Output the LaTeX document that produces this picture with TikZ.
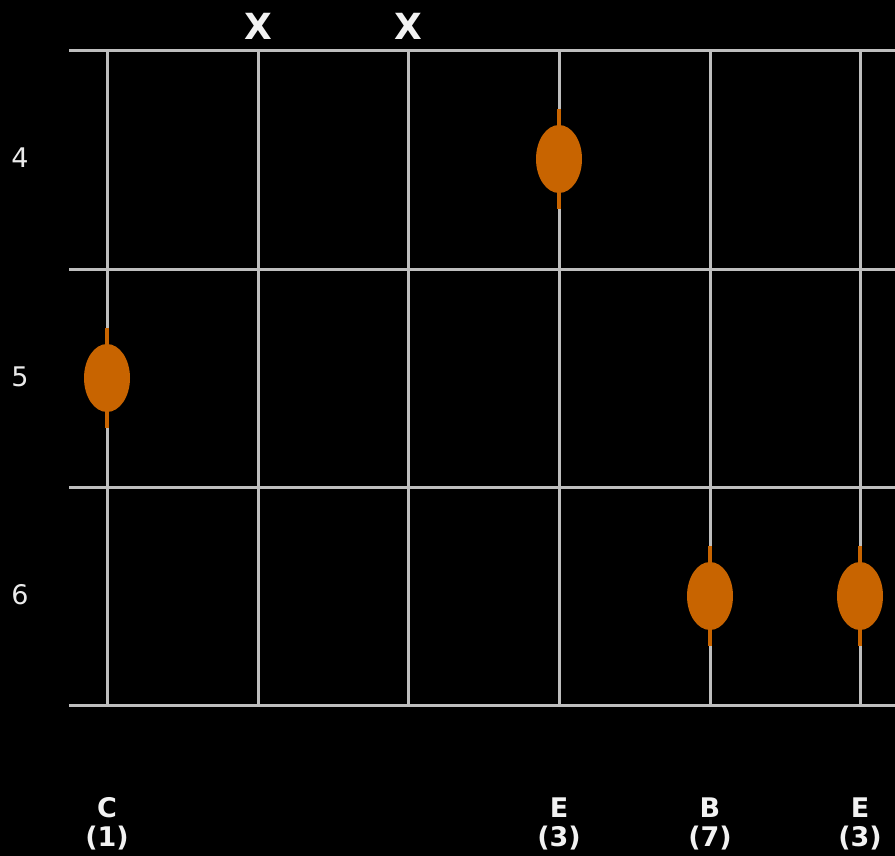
\documentclass[tikz,border=0pt]{standalone}
\usepackage{fontspec}
\setmainfont{DejaVu Sans}
\definecolor{gridgray}{HTML}{BEBEBE}
\definecolor{dotorange}{HTML}{C86400}
\tikzset{
  x=1pt, y=-1pt,
  gridline/.style={draw=gridgray, line width=3pt},
  dotline/.style={draw=dotorange, line width=4pt},
  dotfill/.style={fill=dotorange, draw=none},
  fretnum/.style={text=white!92!black, font=\fontsize{27}{30}\selectfont, inner sep=0pt},
  mutemark/.style={text=white!95!black, font=\bfseries\fontsize{36}{40}\selectfont, inner sep=0pt},
  notelabel/.style={text=white!95!black, font=\bfseries\fontsize{27}{29}\selectfont, align=center, inner sep=0pt},
}
\begin{document}
\begin{tikzpicture}
\fill[black] (0,0) rectangle (895,856);
\useasboundingbox (0,0) rectangle (895,856);
% frets
\foreach \y in {51,269,487,705} \draw[gridline] (69,\y) -- (895,\y);
% strings
\foreach \x in {107,258,408,559,710,860} \draw[gridline] (\x,51) -- (\x,705);
% dots
\foreach \x/\y in {559/159, 107/378, 710/596, 860/596} {
  \draw[dotline] (\x,\y-50) -- (\x,\y+50);
  \fill[dotfill] (\x,\y) ellipse [x radius=23, y radius=34];
}
% fret numbers
\node[fretnum] (f4) at (20,158) {4};
\node[fretnum] (f5) at (20,377) {5};
\node[fretnum] (f6) at (20,595) {6};
% mute marks
\node[mutemark] (m2) at (258,26) {X};
\node[mutemark] (m3) at (408,26) {X};
% note labels
\node[notelabel] (n1) at (107,824) {C\\(1)};
\node[notelabel] (n4) at (559,824) {E\\(3)};
\node[notelabel] (n5) at (710,824) {B\\(7)};
\node[notelabel] (n6) at (860,824) {E\\(3)};
\end{tikzpicture}
\end{document}
